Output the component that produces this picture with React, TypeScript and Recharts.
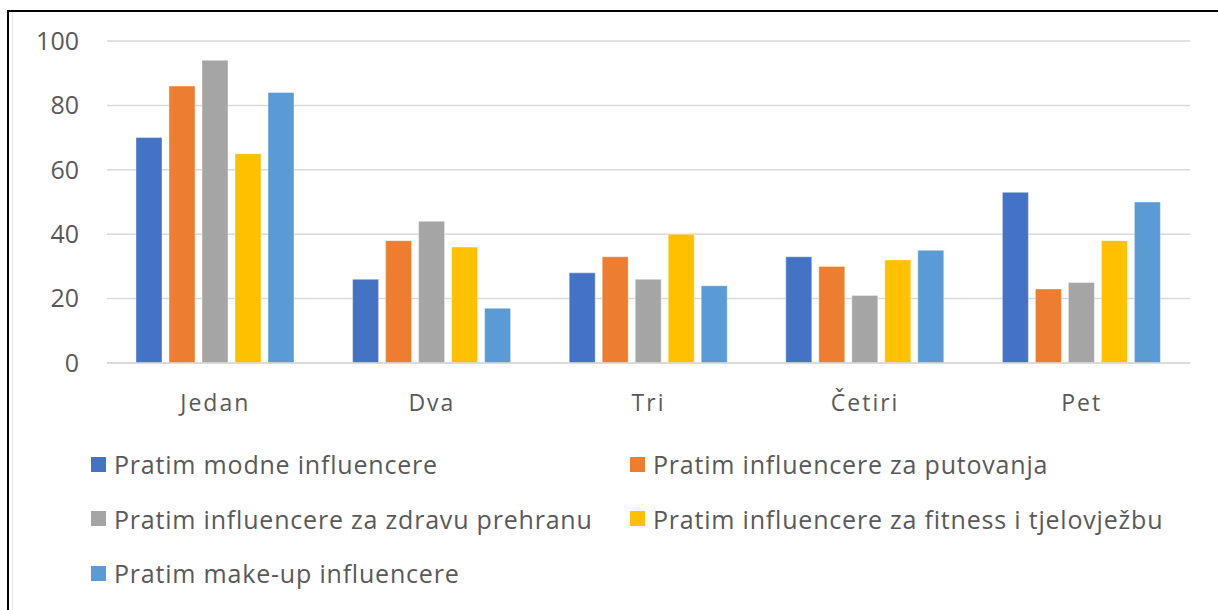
import React from "react";
import { Bar, BarChart, CartesianGrid, Legend, XAxis, YAxis } from "recharts";

const categories = ["Jedan", "Dva", "Tri", "Četiri", "Pet"];

const modne = [70, 26, 28, 33, 53];
const putovanja = [86, 38, 33, 30, 23];
const prehrana = [94, 44, 26, 21, 25];
const fitness = [65, 36, 40, 32, 38];
const makeup = [84, 17, 24, 35, 50];

const yTicks = [0, 20, 40, 60, 80, 100];

const series = [
  { key: "modne", name: "Pratim modne influencere", color: "#4472C4", values: modne },
  { key: "putovanja", name: "Pratim influencere za putovanja", color: "#ED7D31", values: putovanja },
  { key: "prehrana", name: "Pratim influencere za zdravu prehranu", color: "#A5A5A5", values: prehrana },
  { key: "fitness", name: "Pratim influencere za fitness i tjelovježbu", color: "#FFC000", values: fitness },
  { key: "makeup", name: "Pratim make-up influencere", color: "#5B9BD5", values: makeup },
];

const data = categories.map((cat, i) => {
  const row: { [k: string]: string | number } = { cat };
  series.forEach((s) => {
    row[s.key] = s.values[i];
  });
  return row;
});

const FONT = "'Open Sans', sans-serif";
const TEXT = "#595959";

const LegendBox = () => (
  <div
    style={{
      display: "grid",
      gridTemplateColumns: "539px 600px",
      paddingLeft: 52,
      paddingTop: 14,
      fontFamily: FONT,
      fontSize: 25,
      color: TEXT,
      textAlign: "left",
    }}
  >
    {series.map((s) => (
      <div
        key={s.key}
        style={{ display: "flex", alignItems: "center", height: 54.5 }}
      >
        <span
          style={{
            width: 15,
            height: 15,
            background: s.color,
            marginRight: 8,
            display: "inline-block",
            flex: "none",
          }}
        />
        <span style={{ letterSpacing: 0.8, whiteSpace: "nowrap" }}>{s.name}</span>
      </div>
    ))}
  </div>
);

export default function App() {
  return (
    <div
      style={{
        position: "absolute",
        left: 7,
        top: 10,
        width: 1220,
        height: 610,
        borderLeft: "2px solid #000",
        borderTop: "2px solid #000",
        background: "#fff",
      }}
    >
      <div
        style={{
          position: "absolute",
          left: 3,
          top: 0,
          height: 610,
          borderLeft: "1px solid #e6e6e6",
        }}
      />
      <div style={{ position: "absolute", left: 0, top: 0 }}>
        <BarChart
          width={1209}
          height={598}
          data={data}
          margin={{ top: 29, right: 28, left: 30, bottom: 0 }}
          barCategoryGap={29}
          barGap={7}
        >
          <CartesianGrid vertical={false} stroke="#d9d9d9" strokeWidth={1.5} />
          <XAxis
            dataKey="cat"
            tickLine={false}
            axisLine={{ stroke: "#d9d9d9", strokeWidth: 1.5 }}
            height={60}
            tickMargin={26}
            tick={{ fill: TEXT, fontSize: 23, fontFamily: FONT, letterSpacing: 2 }}
          />
          <YAxis
            domain={[0, 100]}
            ticks={yTicks}
            axisLine={false}
            tickLine={false}
            width={68}
            tickMargin={22}
            tick={{ fill: TEXT, fontSize: 25, fontFamily: FONT }}
          />
          <Legend verticalAlign="bottom" height={187} content={() => <LegendBox />} />
          {series.map((s) => (
            <Bar
              key={s.key}
              dataKey={s.key}
              name={s.name}
              fill={s.color}
              stroke="#ffffff"
              strokeOpacity={0.4}
              isAnimationActive={false}
            />
          ))}
        </BarChart>
      </div>
    </div>
  );
}
